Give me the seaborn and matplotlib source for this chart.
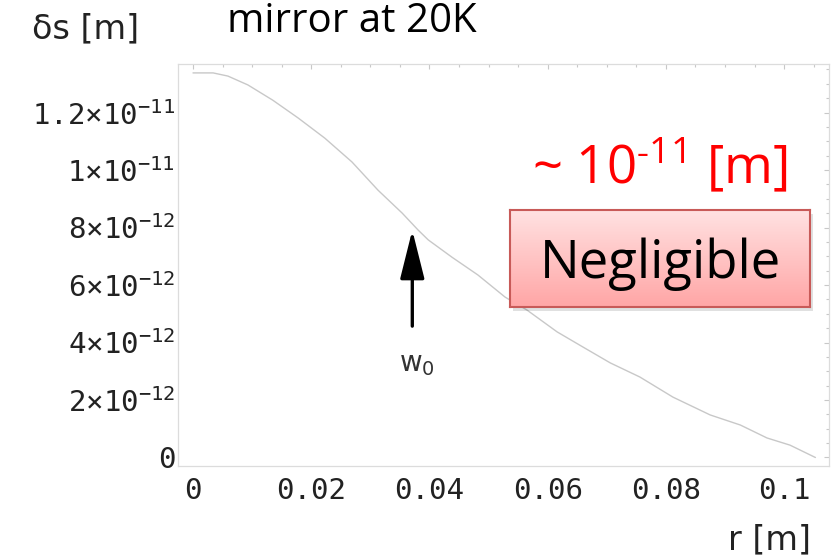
import numpy as np
import matplotlib
matplotlib.use("Agg")
import matplotlib.pyplot as plt
import seaborn as sns
from matplotlib.colors import LinearSegmentedColormap
from matplotlib.patches import Rectangle
from matplotlib.ticker import MultipleLocator

# values (r in m, ds in units of 1e-12 m)
r_m = [0.0, 0.0034, 0.0059, 0.0093, 0.0135, 0.0178, 0.0223, 0.0269, 0.0313,
       0.0354, 0.0381, 0.0398, 0.0438, 0.0482, 0.0528, 0.0565, 0.0616, 0.0660,
       0.0706, 0.0756, 0.0812, 0.0875, 0.0926, 0.0971, 0.1010, 0.1053]
ds_pm = [13.38, 13.38, 13.27, 12.96, 12.43, 11.81, 11.11, 10.28, 9.30,
         8.50, 7.91, 7.57, 6.97, 6.35, 5.58, 5.13, 4.37, 3.84,
         3.29, 2.80, 2.10, 1.48, 1.13, 0.68, 0.43, 0.0]

xtick_vals = [0, 0.02, 0.04, 0.06, 0.08, 0.1]
xtick_labels = ["0", "0.02", "0.04", "0.06", "0.08", "0.1"]
ytick_vals = [0, 2e-12, 4e-12, 6e-12, 8e-12, 1e-11, 1.2e-11]
ytick_labels = ["0", "2×10$^{-12}$", "4×10$^{-12}$", "6×10$^{-12}$",
                "8×10$^{-12}$", "1×10$^{-11}$", "1.2×10$^{-11}$"]

# beam radius marker
w0_r = 0.0371

sns.set_style("white")
plt.rcParams["font.family"] = ["DejaVu Sans"]
plt.rcParams["mathtext.default"] = "regular"

W, H = 835, 558
fig = plt.figure(figsize=(W / 100, H / 100), dpi=100)
ax = fig.add_axes([178 / W, 1 - 466 / H, (829 - 178) / W, (466 - 64) / H])

ds_m = np.array(ds_pm) * 1e-12
sns.lineplot(x=r_m, y=ds_m, ax=ax, color="#c8c8c8", lw=1.0, zorder=3)

ax.set_xlim(-0.00254, 0.1076)
ax.set_ylim(-0.296e-12, 13.69e-12)

ax.set_xticks(xtick_vals)
ax.set_xticklabels(xtick_labels)
ax.set_yticks(ytick_vals)
ax.set_yticklabels(ytick_labels)
ax.xaxis.set_minor_locator(MultipleLocator(0.005))
ax.yaxis.set_minor_locator(MultipleLocator(0.5e-12))
ax.tick_params(which="both", direction="in", color="#c8c8c8", width=0.8,
               top=True, right=True, labelcolor="#222222")
ax.tick_params(which="major", length=3.8)
ax.tick_params(which="minor", length=2.0)
ax.tick_params(axis="x", pad=8)
ax.tick_params(axis="y", pad=2)
for lab in ax.get_xticklabels() + ax.get_yticklabels():
    lab.set_family("DejaVu Sans Mono")
    lab.set_fontsize(21)

for s in ax.spines.values():
    s.set_color("#dcdcdc")
    s.set_linewidth(0.9)

# arrow and label at w0
ax.annotate("", xy=(w0_r, 7.91e-12), xytext=(w0_r, 4.57e-12),
            arrowprops=dict(arrowstyle="-|>,head_length=30,head_width=7.5",
                            mutation_scale=1, lw=2.4, color="black",
                            shrinkA=0, shrinkB=0))
ax.text(w0_r + 0.0008, 3.0e-12, "w$_0$", ha="center", va="baseline",
        fontsize=20, color="#333333")

# axis labels and title text
fig.text(32 / W, 1 - 38 / H, "δs [m]", fontsize=24, color="#222222",
         ha="left", va="baseline")
fig.text(728 / W, 1 - 549 / H, "r [m]", fontsize=24, color="#222222",
         ha="left", va="baseline")
fig.text(227 / W, 1 - 32 / H, "mirror at 20K", fontsize=29, color="black",
         family="Open Sans", ha="left", va="baseline")
fig.text(532 / W, 1 - 183 / H, "~ 10$^{\u2010 11}$ [m]", fontsize=38,
         color="#ff0000", family="Open Sans", ha="left", va="baseline")

# "Negligible" box with gradient and shadow
bx0, by0, bx1, by1 = 510, 210, 810, 307
ax.add_patch(Rectangle(((bx0 + 3) / W, 1 - (by1 + 4) / H), (bx1 - bx0) / W,
                       (by1 - by0) / H, transform=fig.transFigure,
                       facecolor="#000000", alpha=0.12, edgecolor="none",
                       clip_on=False, zorder=5))
box = fig.add_axes([bx0 / W, 1 - by1 / H, (bx1 - bx0) / W, (by1 - by0) / H])
cmap = LinearSegmentedColormap.from_list("pink", ["#ffe2e2", "#ffa6a6"])
box.imshow(np.linspace(0, 1, 100).reshape(-1, 1), aspect="auto", cmap=cmap,
           extent=[0, 1, 0, 1], origin="upper")
box.set_xticks([])
box.set_yticks([])
for s in box.spines.values():
    s.set_color("#c85a58")
    s.set_linewidth(1.5)
box.text(0.5, (by1 - 278) / (by1 - by0), "Negligible", transform=box.transAxes,
         ha="center", va="baseline", fontsize=38, family="Open Sans",
         color="black")

fig.savefig("out.png", dpi=100)
